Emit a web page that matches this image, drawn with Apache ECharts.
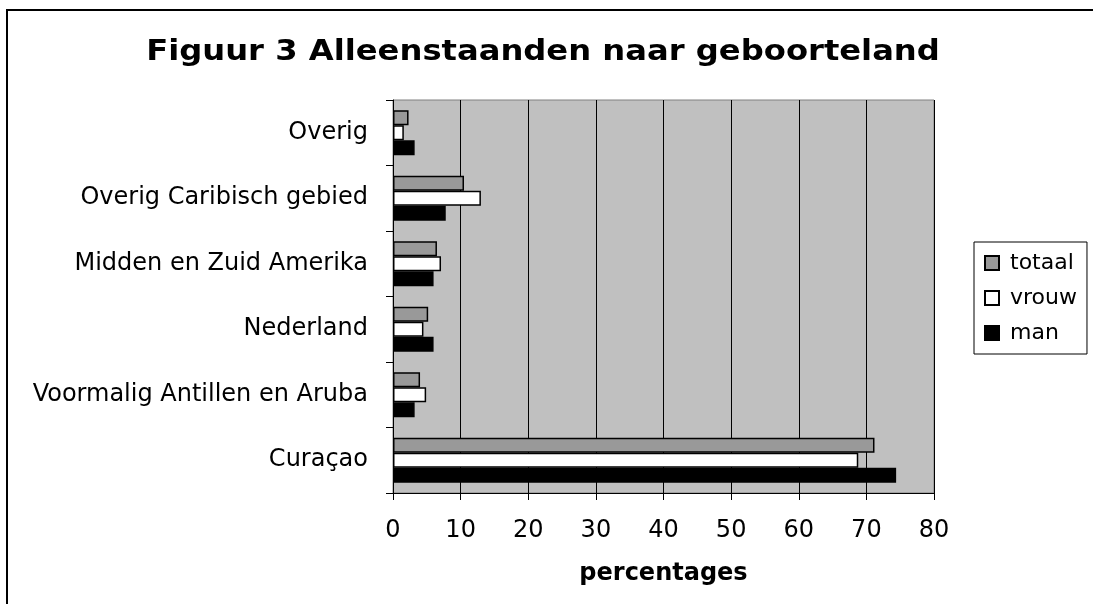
<!DOCTYPE html>
<html>
<head>
<meta charset="utf-8">
<script src="https://cdn.jsdelivr.net/npm/echarts@6/dist/echarts.min.js"></script>
<style>
    html, body { margin: 0; padding: 0; background: #fff; }
    #main { width: 1093px; height: 604px; }
</style>
</head>
<body>
<div id="main"></div>
<script>
// categories, bottom to top (echarts puts the first one at the bottom)
var landen = ['Curaçao', 'Voormalig Antillen en Aruba', 'Nederland', 'Midden en Zuid Amerika', 'Overig Caribisch gebied', 'Overig'];
var totaal = [71.2, 4.0, 5.2, 6.5, 10.5, 2.3];
var vrouw = [68.8, 4.9, 4.5, 7.1, 13.0, 1.6];
var man = [74.4, 3.2, 6.0, 6.0, 7.8, 3.2];
var xTicks = [0, 10, 20, 30, 40, 50, 60, 70, 80];

var font = 'DejaVu Sans';

var chart = echarts.init(document.getElementById('main'));

// bar style, excel look
function barItem(kleur) {
    return {
        color: kleur,
        borderColor: '#000',
        borderWidth: 1.5
    };
}

chart.setOption({
    animation: false,
    backgroundColor: '#fff',
    graphic: [
        // frame round the chart (only top and left visible)
        {
            type: 'rect',
            shape: { x: 7, y: 10, width: 1300, height: 900 },
            style: { fill: 'none', stroke: '#000', lineWidth: 2 },
            z: 0
        },
        // title, stretched a bit like the original
        {
            type: 'text',
            x: 543,
            y: 53,
            scaleX: 1.15,
            style: {
                text: 'Figuur 3 Alleenstaanden naar geboorteland',
                font: 'bold 28px "DejaVu Sans"',
                fill: '#000',
                align: 'center',
                verticalAlign: 'middle'
            }
        }
    ],
    legend: {
        orient: 'vertical',
        left: 974,
        top: 242,
        padding: [10, 10, 10, 10],
        itemGap: 13,
        itemWidth: 14,
        itemHeight: 14,
        borderColor: '#000',
        borderWidth: 1,
        icon: 'rect',
        data: ['totaal', 'vrouw', 'man'],
        textStyle: { fontFamily: font, fontSize: 22, lineHeight: 21, color: '#000', padding: [0, 0, 0, 6] }
    },
    grid: {
        left: 393,
        right: 159,
        top: 100,
        bottom: 111,
        show: true,
        backgroundColor: '#c0c0c0',
        borderColor: '#808080',
        borderWidth: 1
    },
    xAxis: {
        type: 'value',
        min: 0,
        max: 80,
        interval: 10,
        name: 'percentages',
        nameLocation: 'middle',
        nameGap: 69,
        nameTextStyle: { fontFamily: font, fontSize: 24, fontWeight: 'bold', color: '#000' },
        axisLine: { show: true, lineStyle: { color: '#000', width: 1 } },
        axisTick: { show: true, length: 7, lineStyle: { color: '#000' } },
        axisLabel: {
            fontFamily: font, fontSize: 24, color: '#000', margin: 26,
            formatter: function (v) { return xTicks.indexOf(v) >= 0 ? v : ''; }
        },
        splitLine: { show: true, lineStyle: { color: '#000', width: 1 } }
    },
    yAxis: {
        type: 'category',
        data: landen,
        axisLine: { show: true, lineStyle: { color: '#000', width: 1 } },
        axisTick: { show: true, length: 7, lineStyle: { color: '#000' } },
        axisLabel: { fontFamily: font, fontSize: 24, color: '#000', margin: 25 },
        splitLine: { show: false }
    },
    series: [
        {
            name: 'totaal',
            type: 'bar',
            data: totaal,
            barGap: '0%',
            barCategoryGap: '31%',
            itemStyle: barItem('#999999')
        },
        {
            name: 'vrouw',
            type: 'bar',
            data: vrouw,
            itemStyle: barItem('#ffffff')
        },
        {
            name: 'man',
            type: 'bar',
            data: man,
            itemStyle: barItem('#000000')
        }
    ]
});

window.onresize = function () {
    chart.resize();
};
</script>
</body>
</html>
